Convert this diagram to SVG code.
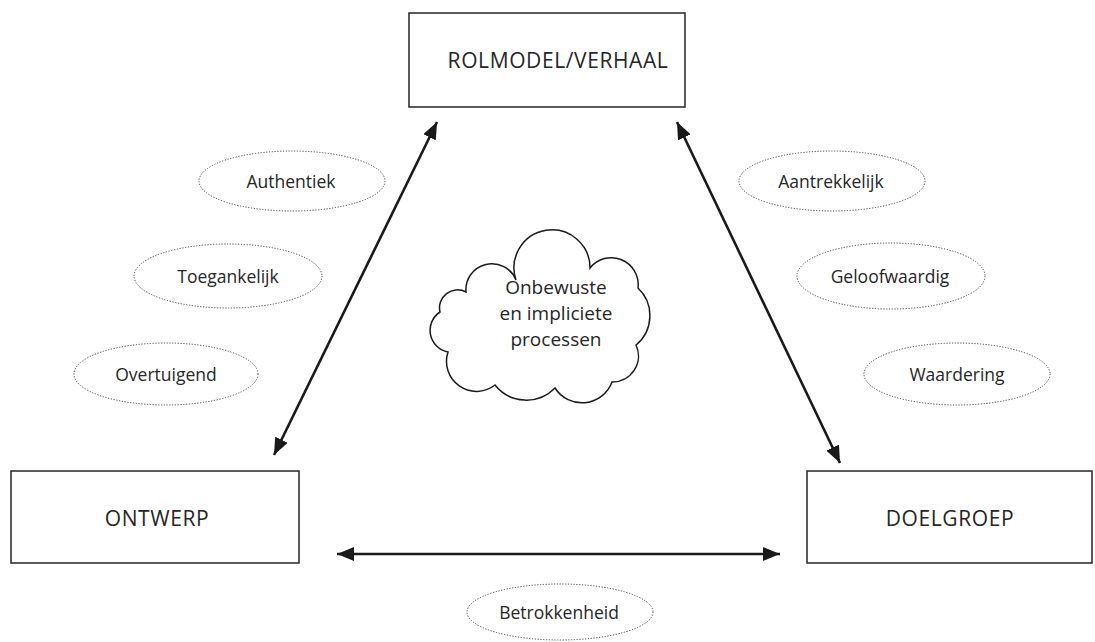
<svg xmlns="http://www.w3.org/2000/svg" width="1095" height="642" viewBox="0 0 1095 642">
<style>
.box{fill:#fff;stroke:#333;stroke-width:1.6}
.ell{fill:none;stroke:#444;stroke-width:1;stroke-dasharray:1.2 1.6}
.t{font-family:"Open Sans","Liberation Sans",sans-serif;fill:#262626;text-anchor:middle;dominant-baseline:central}
.bt{font-size:21px;letter-spacing:0.6px}
.et{font-size:17.5px}
.ct{font-size:19px}
.con{stroke:#1a1a1a;stroke-width:2.6;fill:none;marker-start:url(#ah);marker-end:url(#ah)}
</style>
<defs>
<marker id="ah" markerUnits="userSpaceOnUse" markerWidth="18" markerHeight="14" refX="17" refY="7" orient="auto-start-reverse">
<path d="M0,0 L17,7 L0,14 Z" fill="#1a1a1a"/>
</marker>
</defs>
<rect width="1095" height="642" fill="#fff"/>
<g id="connectors">
<line class="con" x1="274" y1="455" x2="437" y2="122"/>
<line class="con" x1="677" y1="122" x2="840" y2="463"/>
<line class="con" x1="337" y1="554" x2="780" y2="554"/>
</g>
<g id="rolmodel">
<rect class="box" x="409" y="13" width="276" height="94"/>
<text class="t bt" x="558" y="60">ROLMODEL/VERHAAL</text>
</g>
<g id="ontwerp">
<rect class="box" x="11" y="471" width="288" height="92"/>
<text class="t bt" x="157" y="518">ONTWERP</text>
</g>
<g id="doelgroep">
<rect class="box" x="807" y="471" width="285" height="92"/>
<text class="t bt" x="950" y="518">DOELGROEP</text>
</g>
<g id="authentiek">
<ellipse class="ell" cx="292" cy="181" rx="93" ry="30"/>
<text class="t et" x="291" y="181">Authentiek</text>
</g>
<g id="toegankelijk">
<ellipse class="ell" cx="228" cy="276" rx="94" ry="32"/>
<text class="t et" x="228" y="276">Toegankelijk</text>
</g>
<g id="overtuigend">
<ellipse class="ell" cx="166" cy="374" rx="92" ry="31"/>
<text class="t et" x="166" y="374">Overtuigend</text>
</g>
<g id="aantrekkelijk">
<ellipse class="ell" cx="832" cy="181" rx="93" ry="30"/>
<text class="t et" x="831" y="181">Aantrekkelijk</text>
</g>
<g id="geloofwaardig">
<ellipse class="ell" cx="891" cy="276" rx="94" ry="33"/>
<text class="t et" x="890" y="276">Geloofwaardig</text>
</g>
<g id="waardering">
<ellipse class="ell" cx="957" cy="374" rx="93" ry="31"/>
<text class="t et" x="957" y="374">Waardering</text>
</g>
<g id="betrokkenheid">
<ellipse class="ell" cx="560" cy="612" rx="93" ry="28"/>
<text class="t et" x="559" y="612">Betrokkenheid</text>
</g>
<g id="cloud">
<path fill="#fff" stroke="#1a1a1a" stroke-width="1.5" d="M466,292 A26,26 0 0 1 516,280 A38,38 0 1 1 590,268 A27,27 0 0 1 638,288 A38,38 0 0 1 636,345 A26,26 0 0 1 612,382 A32,32 0 0 1 555,388 A40,40 0 0 1 495,385 A30,30 0 0 1 448,352 A22,22 0 0 1 440,312 A18,18 0 0 1 466,292 Z"/>
<text class="t ct" x="556" y="287">Onbewuste</text>
<text class="t ct" x="556" y="313">en impliciete</text>
<text class="t ct" x="556" y="339">processen</text>
</g>
</svg>
